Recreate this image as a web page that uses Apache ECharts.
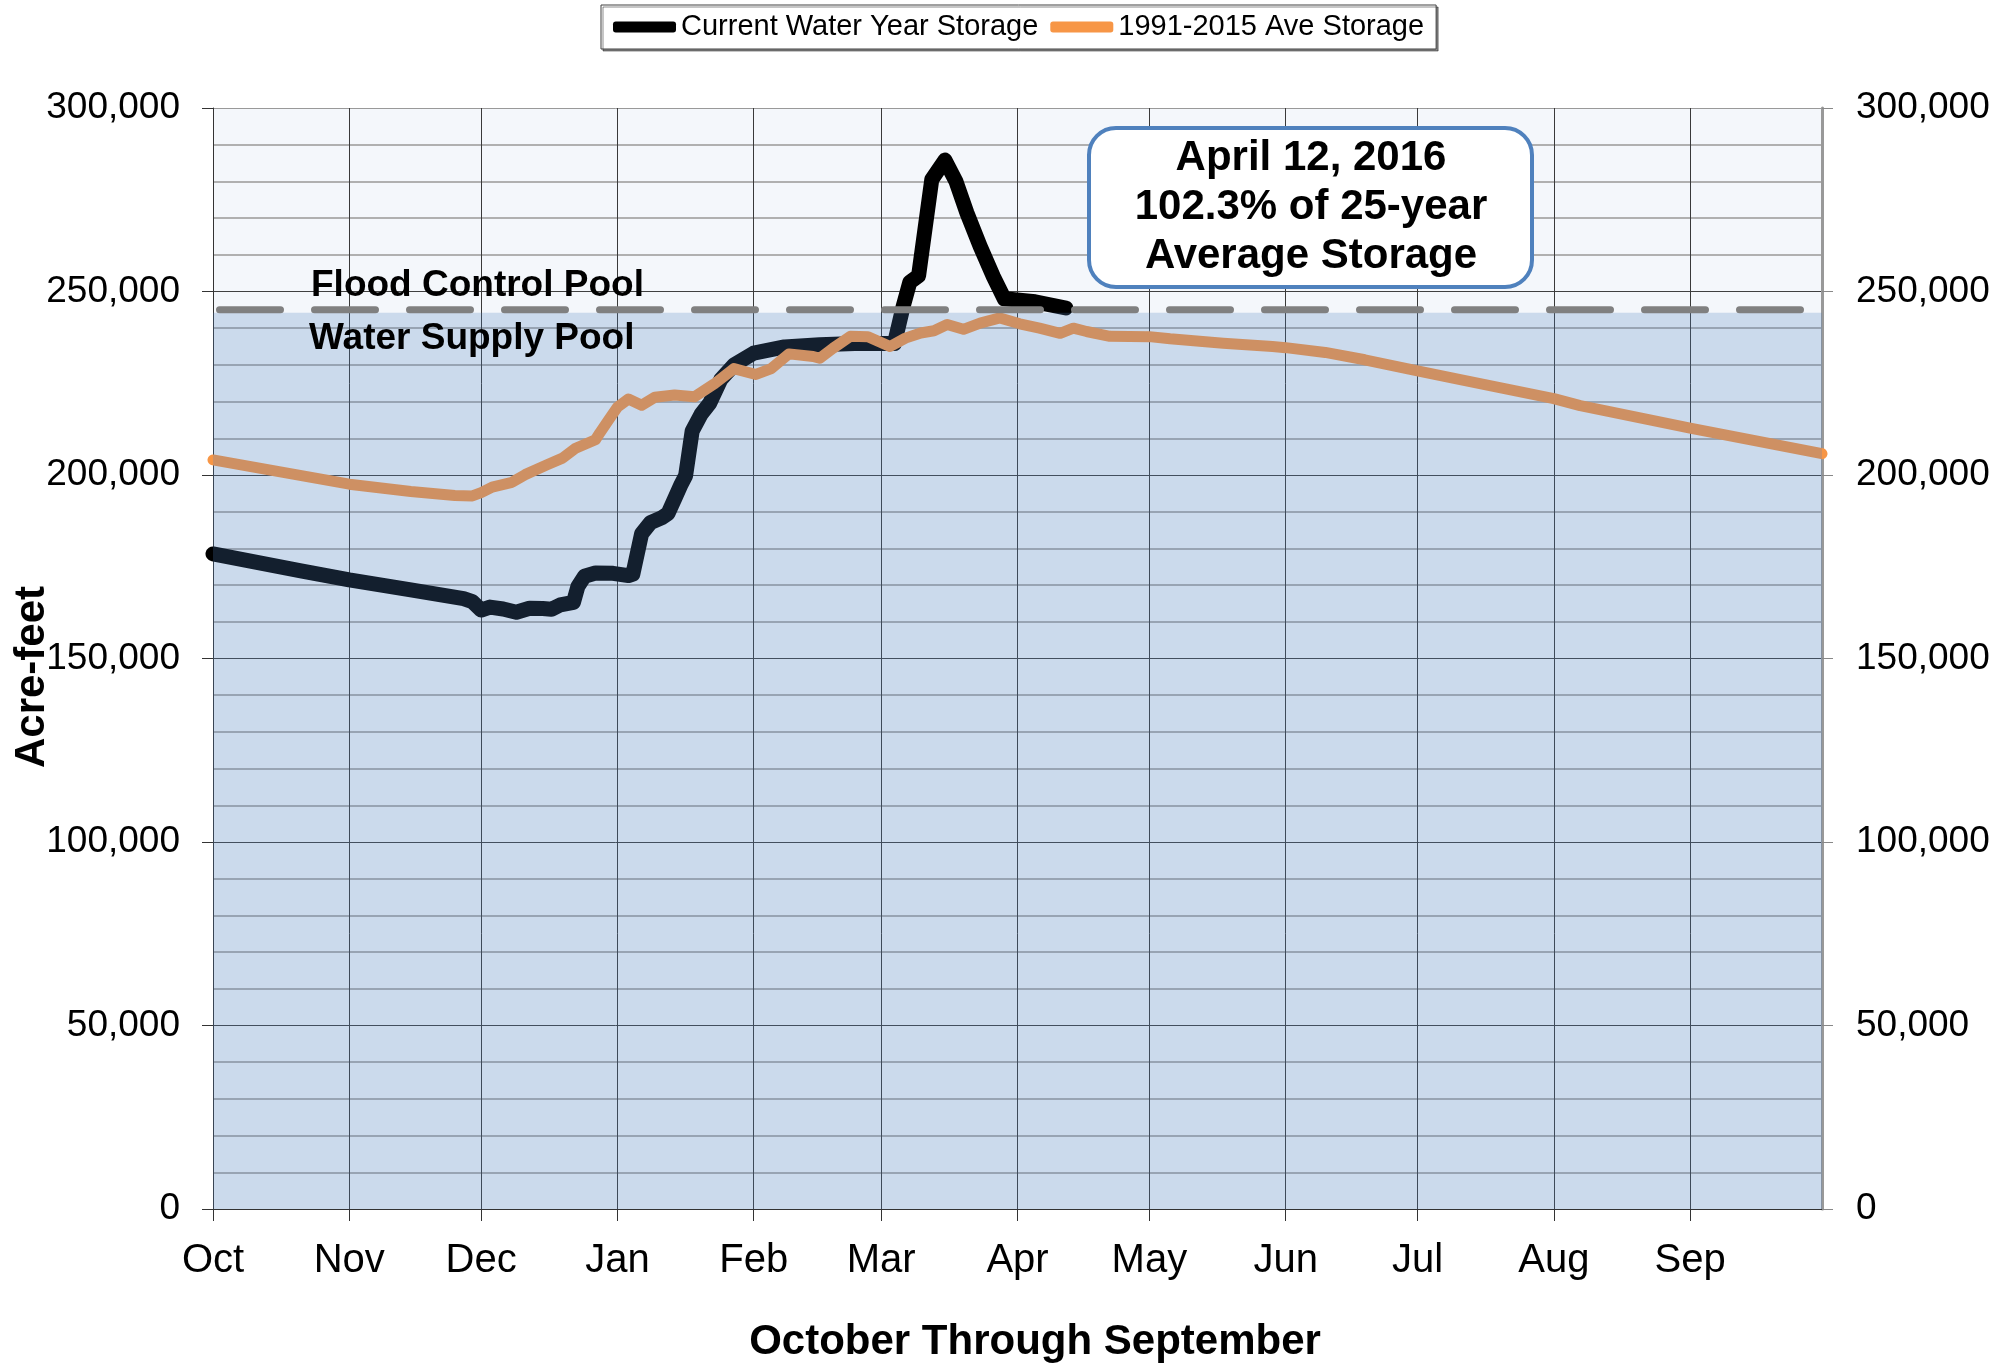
<!DOCTYPE html>
<html>
<head>
<meta charset="utf-8">
<script src="https://cdn.jsdelivr.net/npm/echarts@6.0.0/dist/echarts.min.js"></script>
<style>
html,body{margin:0;padding:0;background:#fff;}
#chart{width:2015px;height:1364px;}
</style>
</head>
<body>
<div id="chart"></div>
<script>
// ---- Data (day index from Oct 1 of the water year) ----
const monthNames = ['Oct','Nov','Dec','Jan','Feb','Mar','Apr','May','Jun','Jul','Aug','Sep'];
const monthStarts = [0,31,61,92,123,152,183,213,244,274,305,336];
const yTicks = [0,50000,100000,150000,200000,250000,300000];

const currentDays = [0,10,20,31,45,57,59,61,63,66,69,72,75,77,79,82,83,84.5,87,91,94.5,95.5,97.5,99.5,102,103.5,105,106.5,107.5,109,111,113,115.5,118.5,123,130,138,146,155,157,158.5,160.5,163.5,166.5,169,171.5,174.5,177.5,180,187,194];
const currentValues = [178500,176200,173900,171400,168700,166300,165500,163200,164000,163500,162600,163700,163600,163400,164600,165300,169600,172400,173300,173200,172600,173000,184000,187000,188300,189500,193500,197500,199800,212000,216500,219600,226000,230000,233200,234900,235500,235800,235800,246000,252500,254300,280500,285800,280000,271400,262300,254100,248000,247200,245500];

const avgDays = [0,15,31,45,55,59,61,63.5,68,71,76,79.5,82.5,87,88,90,92,94.5,97.5,100.5,105,109.5,114,118.5,123.5,127,131,136.5,138,141,145,149,154,157.5,161,164,167,170.7,174.5,179,183.5,188,192.7,195.7,198.7,204,213,217.7,229.8,241,244,253,262,274,284,305,311,336,366];
const avgValues = [204100,200900,197500,195500,194400,194300,195200,196700,198000,200100,202800,204600,207300,209600,211500,215000,218500,220700,219000,221200,221800,221300,224800,229000,227400,229000,233000,232300,231800,234500,237800,237700,235000,237300,238700,239300,241000,239700,241400,242800,241200,240000,238600,240000,239100,237800,237700,237100,235900,235000,234700,233400,231400,228400,225900,220800,218900,212800,205800];

const floodControlLevel = 245000;
const waterSupplyTop = 244200;
const axisDays = [0, 366];

const FONT = 'Liberation Sans, Arial, Helvetica, sans-serif';
const zip = (a, b) => a.map((d, i) => [d, b[i]]);
const fmt = v => Number(v).toLocaleString('en-US');

const chart = echarts.init(document.getElementById('chart'), null, {renderer:'canvas'});

const option = {
  animation: false,
  backgroundColor: '#ffffff',
  legend: {
    data: ['Current Water Year Storage', '1991-2015 Ave Storage'],
    left: 601, top: 5,
    padding: [7, 12, 7, 12],
    itemGap: 12,
    itemTextGap: 1,
    itemWidth: 63,
    itemHeight: 11,
    icon: 'roundRect',
    borderColor: '#404040',
    borderWidth: 1,
    shadowColor: 'rgba(0,0,0,0.45)',
    shadowOffsetX: 2,
    shadowOffsetY: 2,
    shadowBlur: 0,
    backgroundColor: '#ffffff',
    textStyle: {fontFamily: FONT, fontSize: 29, color: '#000', lineHeight: 30}
  },
  grid: {
    left: 213, right: 193, top: 108, bottom: 155,
    show: true, backgroundColor: '#f4f7fb', borderWidth: 0
  },
  xAxis: {
    type: 'value', min: 0, max: 366,
    axisLine: {show: true, onZero: false, lineStyle: {color: '#333', width: 1}},
    axisTick: {show: true, customValues: monthStarts, length: 12, lineStyle: {color: '#333', width: 1}},
    axisLabel: {
      customValues: monthStarts,
      formatter: v => monthNames[monthStarts.indexOf(Math.round(v))] || '',
      fontFamily: FONT, fontSize: 40, color: '#000', margin: 32
    },
    splitLine: {show: true, lineStyle: {color: '#3a3a3a', width: 1}}
  },
  yAxis: [
    {
      type: 'value', min: 0, max: 300000, interval: 50000, position: 'left',
      axisLine: {show: true, lineStyle: {color: '#333', width: 1}},
      axisTick: {show: true, length: 11, lineStyle: {color: '#333'}},
      axisLabel: {formatter: fmt, fontFamily: FONT, fontSize: 37, color: '#000', margin: 33, lineHeight: 42, verticalAlign: 'middle'},
      splitLine: {show: true, lineStyle: {color: ['#404040','#404040','#404040','#404040','#404040','#404040','#999999'], width: 1}},
      minorTick: {show: false, splitNumber: 5},
      minorSplitLine: {show: true, lineStyle: {color: '#b0b0b0', width: 2}}
    },
    {
      type: 'value', min: 0, max: 300000, interval: 50000, position: 'right',
      axisLine: {show: true, lineStyle: {color: '#999', width: 3}},
      axisTick: {show: true, length: 11, lineStyle: {color: '#888'}},
      axisLabel: {formatter: fmt, fontFamily: FONT, fontSize: 37, color: '#000', margin: 34, lineHeight: 42, verticalAlign: 'middle'},
      splitLine: {show: false}
    }
  ],
  series: [
    {
      name: 'Current Water Year Storage', type: 'line', z: 2,
      data: zip(currentDays, currentValues),
      showSymbol: false, symbol: 'none',
      itemStyle: {color: '#000000'},
      lineStyle: {color: '#000000', width: 15, cap: 'round', join: 'round'}
    },
    {
      name: '1991-2015 Ave Storage', type: 'line', z: 3,
      data: zip(avgDays, avgValues),
      showSymbol: false, symbol: 'none',
      itemStyle: {color: '#F79646'},
      lineStyle: {color: '#F79646', width: 11, cap: 'round', join: 'round'}
    },
    {
      name: 'Water Supply Pool', type: 'line', z: 5,
      data: axisDays.map(d => [d, waterSupplyTop]),
      showSymbol: false, symbol: 'none', silent: true,
      lineStyle: {width: 0, opacity: 0},
      areaStyle: {color: 'rgba(79,129,189,0.35)', origin: 'start'}
    },
    {
      name: 'Flood Control Pool', type: 'line', z: 6,
      data: axisDays.map(d => [d, floodControlLevel]),
      showSymbol: false, symbol: 'none', silent: true,
      lineStyle: {color: '#808080', width: 7, type: [61, 34], dashOffset: -6.5, cap: 'round'}
    }
  ],
  graphic: [
    {type: 'text', x: 32, y: 677, rotation: Math.PI / 2, z: 100,
      style: {text: 'Acre-feet', fontFamily: FONT, fontSize: 42, fontWeight: 'bold', fill: '#000',
        align: 'center', verticalAlign: 'middle', textAlign: 'center', textVerticalAlign: 'middle'}},
    {type: 'text', x: 1035, y: 1342, z: 100,
      style: {text: 'October Through September', fontFamily: FONT, fontSize: 42, fontWeight: 'bold', fill: '#000',
        align: 'center', verticalAlign: 'middle', textAlign: 'center', textVerticalAlign: 'middle'}},
    {type: 'text', x: 311, y: 286, z: 100,
      style: {text: 'Flood Control Pool', fontFamily: FONT, fontSize: 37, fontWeight: 'bold', fill: '#000',
        align: 'left', verticalAlign: 'middle', textAlign: 'left', textVerticalAlign: 'middle'}},
    {type: 'text', x: 309, y: 339, z: 100,
      style: {text: 'Water Supply Pool', fontFamily: FONT, fontSize: 37, fontWeight: 'bold', fill: '#000',
        align: 'left', verticalAlign: 'middle', textAlign: 'left', textVerticalAlign: 'middle'}},
    {type: 'rect', z: 100,
      shape: {x: 1089, y: 128, width: 443, height: 159, r: 27},
      style: {fill: '#ffffff', stroke: '#4f81bd', lineWidth: 4}},
    {type: 'text', x: 1311, y: 207, z: 101,
      style: {text: 'April 12, 2016\n102.3% of 25-year\nAverage Storage', fontFamily: FONT, fontSize: 42, fontWeight: 'bold',
        fill: '#000', lineHeight: 49,
        align: 'center', verticalAlign: 'middle', textAlign: 'center', textVerticalAlign: 'middle'}}
  ]
};
chart.setOption(option);
</script>
</body>
</html>
